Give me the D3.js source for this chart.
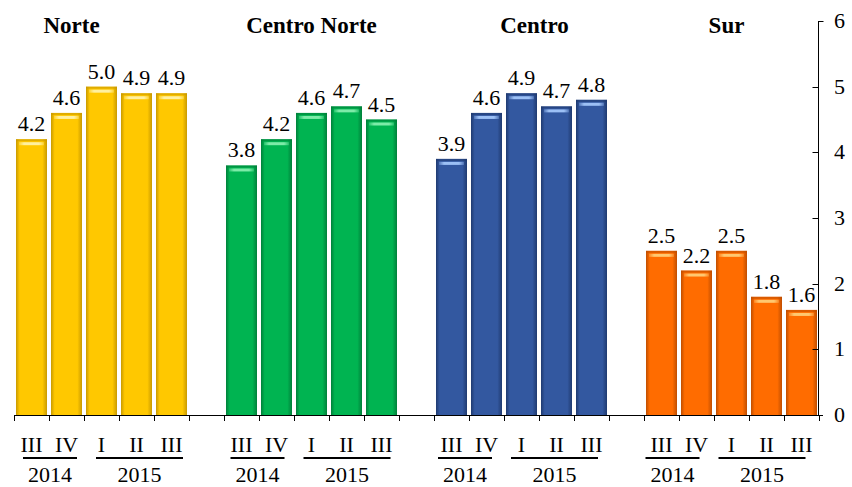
<!DOCTYPE html>
<html>
<head>
<meta charset="utf-8">
<script src="https://cdn.jsdelivr.net/npm/d3@7"></script>
<style>
  html, body { margin: 0; padding: 0; background: #fff; }
  svg { display: block; }
  text { font-family: "Liberation Serif", "Times New Roman", serif; fill: #000; }
</style>
</head>
<body>
<svg id="chart" width="852" height="487"></svg>
<script>
// ---- data ----
const regions = ["Norte", "Centro Norte", "Centro", "Sur"];
const quarters = ["III", "IV", "I", "II", "III"];
const years = ["2014", "2015"];
const norte = [4.2, 4.6, 5.0, 4.9, 4.9];
const centroNorte = [3.8, 4.2, 4.6, 4.7, 4.5];
const centro = [3.9, 4.6, 4.9, 4.7, 4.8];
const sur = [2.5, 2.2, 2.5, 1.8, 1.6];
const yTicks = [0, 1, 2, 3, 4, 5, 6];

(function () {
const seriesValues = [norte, centroNorte, centro, sur];
const palette = [
  { main: "#FFC800", dark: "#C99A00", light: "#FFF0A0" },
  { main: "#00B451", dark: "#00803A", light: "#7DEBA8" },
  { main: "#3358A0", dark: "#1F3A70", light: "#9CC0F5" },
  { main: "#FF6C00", dark: "#C04E00", light: "#FFC870" }
];
const titleShift = [-30, 0, 13, -5];

const svg = d3.select("#chart");
const mLeft = 14, mRight = 819, mTop = 21, mBottom = 415;

const slots = [];
regions.forEach((r, g) => {
  quarters.forEach((q, i) => slots.push({ key: g + "-" + i, g, i, q, v: seriesValues[g][i] }));
  if (g < regions.length - 1) slots.push({ key: "gap" + g, gap: true });
});

const x = d3.scaleBand().domain(slots.map(d => d.key)).range([mLeft, mRight]).paddingInner(0).paddingOuter(0);
const y = d3.scaleLinear().domain([0, 6]).range([mBottom, mTop]);
const bw = x.bandwidth();

const defs = svg.append("defs");
palette.forEach((p, g) => {
  const grad = defs.append("linearGradient").attr("id", "g" + g)
    .attr("x1", "0").attr("x2", "1").attr("y1", "0").attr("y2", "0");
  grad.append("stop").attr("offset", "0").attr("stop-color", p.dark);
  grad.append("stop").attr("offset", "0.12").attr("stop-color", p.main);
  grad.append("stop").attr("offset", "0.85").attr("stop-color", p.main);
  grad.append("stop").attr("offset", "1").attr("stop-color", p.dark);
  const hl = defs.append("linearGradient").attr("id", "h" + g)
    .attr("x1", "0").attr("x2", "1").attr("y1", "0").attr("y2", "0");
  hl.append("stop").attr("offset", "0").attr("stop-color", p.light).attr("stop-opacity", 0.3);
  hl.append("stop").attr("offset", "0.2").attr("stop-color", p.light).attr("stop-opacity", 1);
  hl.append("stop").attr("offset", "0.8").attr("stop-color", p.light).attr("stop-opacity", 1);
  hl.append("stop").attr("offset", "1").attr("stop-color", p.light).attr("stop-opacity", 0.3);
});

const bars = slots.filter(d => !d.gap);
const pad = 2;

const bg = svg.append("g");
bg.selectAll("rect.bar").data(bars).join("rect")
  .attr("class", "bar")
  .attr("x", d => x(d.key) + pad)
  .attr("width", bw - pad * 2)
  .attr("y", d => y(d.v))
  .attr("height", d => y(0) - y(d.v))
  .attr("fill", d => `url(#g${d.g})`);

bg.selectAll("rect.top").data(bars).join("rect")
  .attr("class", "top")
  .attr("x", d => x(d.key) + pad)
  .attr("width", bw - pad * 2)
  .attr("y", d => y(d.v))
  .attr("height", 2)
  .attr("fill", d => palette[d.g].dark).attr("opacity", 0.6);

bg.selectAll("rect.hl").data(bars).join("rect")
  .attr("class", "hl")
  .attr("x", d => x(d.key) + pad + 3)
  .attr("width", bw - pad * 2 - 6)
  .attr("y", d => y(d.v) + 3)
  .attr("height", 3)
  .attr("fill", d => `url(#h${d.g})`);

svg.append("g").selectAll("text").data(bars).join("text")
  .attr("x", d => x(d.key) + bw / 2)
  .attr("y", d => y(d.v) - 8)
  .attr("text-anchor", "middle")
  .style("font-size", "22px")
  .text(d => d.v.toFixed(1));

svg.append("line").attr("x1", mLeft).attr("x2", mRight + 4).attr("y1", mBottom + 0.5).attr("y2", mBottom + 0.5)
  .attr("stroke", "#000").attr("stroke-width", 1);
const bounds = slots.map(d => x(d.key)).concat([mRight]);
svg.append("g").selectAll("line").data(bounds).join("line")
  .attr("x1", d => Math.round(d) + 0.5).attr("x2", d => Math.round(d) + 0.5)
  .attr("y1", mBottom).attr("y2", mBottom + 6)
  .attr("stroke", "#000");

const ax = mRight - 0.5;
svg.append("line").attr("x1", ax).attr("x2", ax).attr("y1", y(6)).attr("y2", y(0))
  .attr("stroke", "#000");
svg.append("g").selectAll("line").data(yTicks.filter(t => t > 0)).join("line")
  .attr("x1", d => d === 6 ? ax : ax - 6).attr("x2", d => d === 6 ? ax + 5 : ax)
  .attr("y1", d => Math.round(y(d)) + 0.5).attr("y2", d => Math.round(y(d)) + 0.5)
  .attr("stroke", "#000");
svg.append("g").selectAll("text").data(yTicks).join("text")
  .attr("x", 834).attr("y", d => y(d) + 7)
  .style("font-size", "22px")
  .text(d => d);

svg.append("g").selectAll("text").data(regions).join("text")
  .attr("x", (d, g) => {
    const a = x(g + "-0"), b = x(g + "-4") + bw;
    return (a + b) / 2 + titleShift[g];
  })
  .attr("y", 33)
  .attr("text-anchor", "middle")
  .style("font-size", "23px").style("font-weight", "bold")
  .text(d => d);

svg.append("g").selectAll("text").data(bars).join("text")
  .attr("x", d => x(d.key) + bw / 2)
  .attr("y", 452)
  .attr("text-anchor", "middle")
  .style("font-size", "22px")
  .text(d => d.q);

const yearSpans = [];
regions.forEach((r, g) => {
  const s = -2.5 * g;
  yearSpans.push({ y: years[0], x0: x(g + "-0") + 9 + s, x1: x(g + "-1") + bw - 7 + s });
  yearSpans.push({ y: years[1], x0: x(g + "-2") + 12 + s, x1: x(g + "-4") + bw - 6 + s });
});
svg.append("g").selectAll("line").data(yearSpans).join("line")
  .attr("x1", d => d.x0).attr("x2", d => d.x1)
  .attr("y1", 458).attr("y2", 458)
  .attr("stroke", "#000").attr("stroke-width", 2);
svg.append("g").selectAll("text").data(yearSpans).join("text")
  .attr("x", d => (d.x0 + d.x1) / 2)
  .attr("y", 482)
  .attr("text-anchor", "middle")
  .style("font-size", "22px")
  .text(d => d.y);
})();
</script>
</body>
</html>
